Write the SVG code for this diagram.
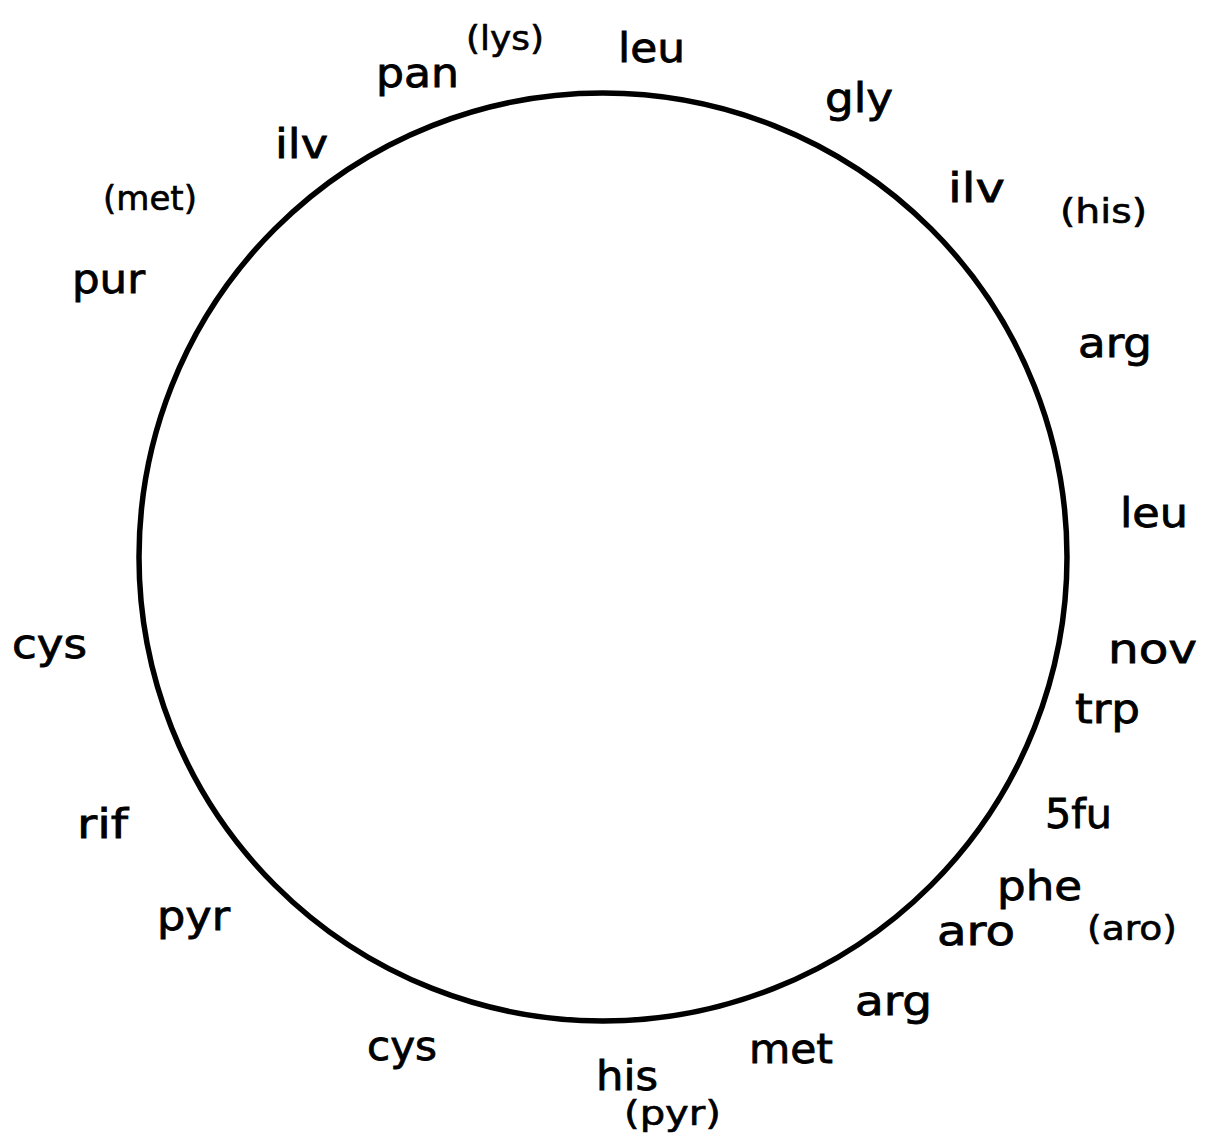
<svg xmlns="http://www.w3.org/2000/svg" width="1212" height="1138" viewBox="0 0 1212 1138">
<style>
  .bg { fill: #ffffff; }
  .ring { fill: none; stroke: #000; stroke-width: 5.5; }
  .lbl { font-family: "DejaVu Sans", "Liberation Sans", sans-serif; font-size: 40px; fill: #000; stroke: #000; stroke-width: 0.8; }
  .sm { font-family: "DejaVu Sans", "Liberation Sans", sans-serif; font-size: 33px; fill: #000; stroke: #000; stroke-width: 0.6; }
</style>
<rect class="bg" x="0" y="0" width="1212" height="1138"/>
<g id="connectors">
  <circle id="chromosome" class="ring" cx="603" cy="557" r="464"/>
</g>
<g id="n-leu-top"><text class="lbl" x="618" y="62" textLength="67" lengthAdjust="spacingAndGlyphs">leu</text></g>
<g id="n-lys"><text class="sm" x="466" y="50" textLength="78" lengthAdjust="spacingAndGlyphs">(lys)</text></g>
<g id="n-pan"><text class="lbl" x="376" y="87" textLength="83" lengthAdjust="spacingAndGlyphs">pan</text></g>
<g id="n-gly"><text class="lbl" x="825" y="112" textLength="68" lengthAdjust="spacingAndGlyphs">gly</text></g>
<g id="n-ilv-right"><text class="lbl" x="948" y="202" textLength="57" lengthAdjust="spacingAndGlyphs">ilv</text></g>
<g id="n-his-paren"><text class="sm" x="1060" y="223" textLength="87" lengthAdjust="spacingAndGlyphs">(his)</text></g>
<g id="n-arg-right"><text class="lbl" x="1078" y="357" textLength="74" lengthAdjust="spacingAndGlyphs">arg</text></g>
<g id="n-leu-right"><text class="lbl" x="1120" y="527" textLength="68" lengthAdjust="spacingAndGlyphs">leu</text></g>
<g id="n-nov"><text class="lbl" x="1108" y="663" textLength="89" lengthAdjust="spacingAndGlyphs">nov</text></g>
<g id="n-trp"><text class="lbl" x="1075" y="723" textLength="65" lengthAdjust="spacingAndGlyphs">trp</text></g>
<g id="n-5fu"><text class="lbl" x="1045" y="828" textLength="67" lengthAdjust="spacingAndGlyphs">5fu</text></g>
<g id="n-phe"><text class="lbl" x="997" y="900" textLength="85" lengthAdjust="spacingAndGlyphs">phe</text></g>
<g id="n-aro"><text class="lbl" x="937" y="945" textLength="78" lengthAdjust="spacingAndGlyphs">aro</text></g>
<g id="n-aro-paren"><text class="sm" x="1087" y="940" textLength="90" lengthAdjust="spacingAndGlyphs">(aro)</text></g>
<g id="n-arg-bottom"><text class="lbl" x="855" y="1015" textLength="77" lengthAdjust="spacingAndGlyphs">arg</text></g>
<g id="n-met"><text class="lbl" x="749" y="1063" textLength="84" lengthAdjust="spacingAndGlyphs">met</text></g>
<g id="n-his"><text class="lbl" x="596" y="1090" textLength="62" lengthAdjust="spacingAndGlyphs">his</text></g>
<g id="n-pyr-paren"><text class="sm" x="624" y="1125" textLength="97" lengthAdjust="spacingAndGlyphs">(pyr)</text></g>
<g id="n-cys-bottom"><text class="lbl" x="367" y="1060" textLength="70" lengthAdjust="spacingAndGlyphs">cys</text></g>
<g id="n-pyr"><text class="lbl" x="157" y="930" textLength="73" lengthAdjust="spacingAndGlyphs">pyr</text></g>
<g id="n-rif"><text class="lbl" x="77" y="838" textLength="51" lengthAdjust="spacingAndGlyphs">rif</text></g>
<g id="n-cys-left"><text class="lbl" x="12" y="658" textLength="75" lengthAdjust="spacingAndGlyphs">cys</text></g>
<g id="n-pur"><text class="lbl" x="72" y="293" textLength="73" lengthAdjust="spacingAndGlyphs">pur</text></g>
<g id="n-met-paren"><text class="sm" x="103" y="210" textLength="94" lengthAdjust="spacingAndGlyphs">(met)</text></g>
<g id="n-ilv-left"><text class="lbl" x="275" y="158" textLength="53" lengthAdjust="spacingAndGlyphs">ilv</text></g>
</svg>
